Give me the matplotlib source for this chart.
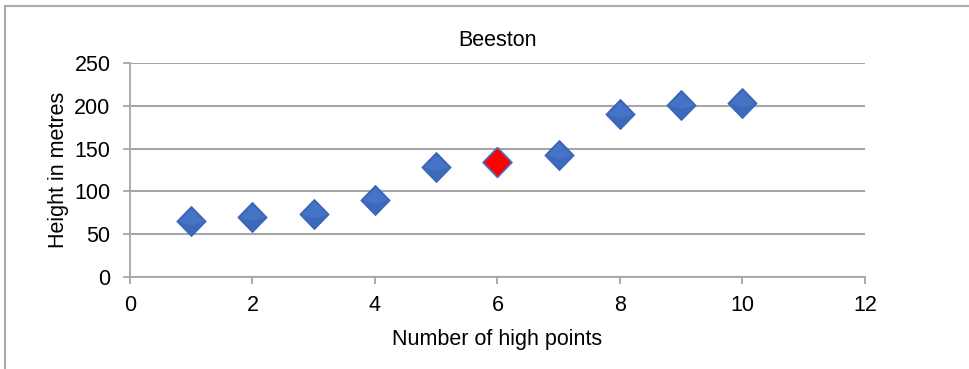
import matplotlib
matplotlib.use("Agg")
import matplotlib.pyplot as plt

x_vals = [1, 2, 3, 4, 5, 6, 7, 8, 9, 10]
heights = [66, 70.5, 74, 90, 128.5, 134, 143, 190.5, 200.5, 203.5]
highlight_index = 5
title = "Beeston"
x_label = "Number of high points"
y_label = "Height in metres"
x_ticks = [0, 2, 4, 6, 8, 10, 12]
y_ticks = [0, 50, 100, 150, 200, 250]

plt.rcParams['font.family'] = ['Liberation Sans', 'DejaVu Sans']

fig = plt.figure(figsize=(9.7, 3.69), dpi=100)
ax = fig.add_axes([130/970, 1 - 277/369, (865-130)/970, (277-63)/369])

grid_c = "#A6A6A6"
diamond = [(0, 1), (0.97, 0), (0, -1), (-0.97, 0), (0, 1)]
upper = [(0, 1), (0.97, 0), (0, -0.3), (-0.97, 0), (0, 1)]

blue_x = [x for i, x in enumerate(x_vals) if i != highlight_index]
blue_y = [y for i, y in enumerate(heights) if i != highlight_index]
ax.plot(blue_x, blue_y, linestyle="none", marker=diamond, markersize=21.5,
        markerfacecolor="#3D69BB", markeredgecolor="#3A64B3", markeredgewidth=0.8,
        zorder=3, clip_on=False)
ax.plot(blue_x, [y + 0 for y in blue_y], linestyle="none", marker=upper, markersize=18,
        markerfacecolor="#4B7BCC", markeredgewidth=0, alpha=0.6,
        zorder=3.5, clip_on=False)
ax.plot([x_vals[highlight_index]], [heights[highlight_index]], linestyle="none",
        marker=diamond, markersize=21.5, markerfacecolor="#FF0000",
        markeredgecolor="#4472C4", markeredgewidth=1.2, zorder=4, clip_on=False)

ax.set_xlim(0, 12)
ax.set_ylim(0, 250)
ax.set_xticks(x_ticks)
ax.set_yticks(y_ticks)
ax.yaxis.grid(True, color=grid_c, linewidth=1.5)
ax.set_axisbelow(True)
for s in ["top", "right"]:
    ax.spines[s].set_visible(False)
for s in ["left", "bottom"]:
    ax.spines[s].set_color(grid_c)
    ax.spines[s].set_linewidth(1.3)
ax.tick_params(axis="both", colors=grid_c, length=5, width=1.3, labelsize=15.5,
               labelcolor="black")
ax.tick_params(axis="y", pad=9)
ax.tick_params(axis="x", pad=8)

ax.set_title(title, fontsize=15.5, pad=12)
ax.set_xlabel(x_label, fontsize=15.5, labelpad=9)
ax.set_ylabel(y_label, fontsize=15.5, labelpad=4)

# chart border (top and left visible)
fig.add_artist(plt.Line2D([5.5/970, 5.5/970], [0, 1 - 5.5/369], transform=fig.transFigure,
                          color="#ABABAB", linewidth=1.5))
fig.add_artist(plt.Line2D([5.5/970, 1], [1 - 5.5/369, 1 - 5.5/369], transform=fig.transFigure,
                          color="#ABABAB", linewidth=1.5))

fig.savefig("out.png", dpi=100)
